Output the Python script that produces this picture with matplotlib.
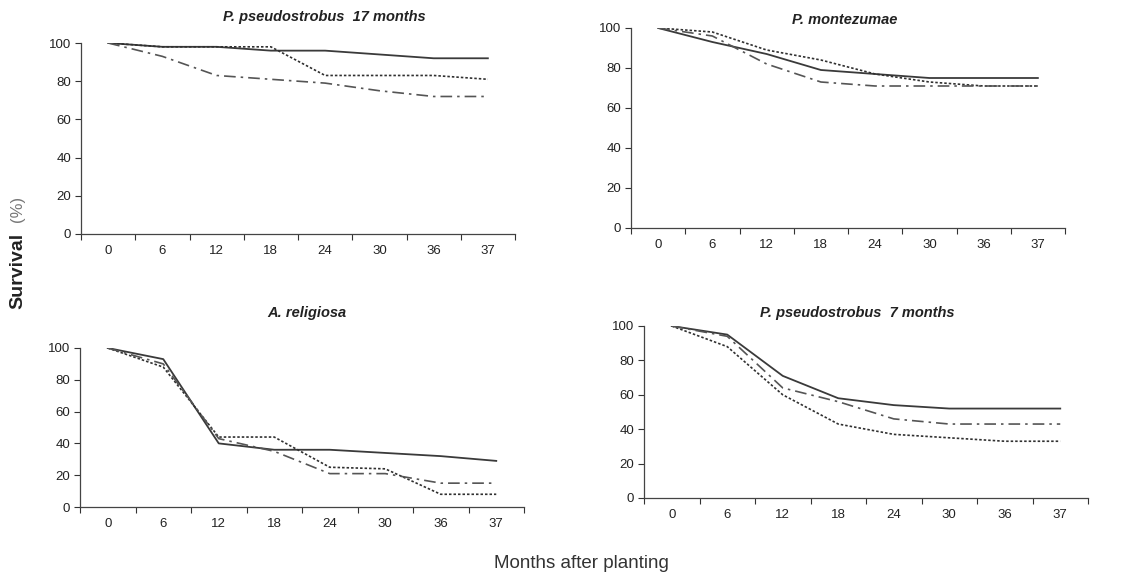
import numpy as np
import matplotlib.pyplot as plt

months = ['0', '6', '12', '18', '24', '30', '36', '37']

# P. pseudostrobus 17 months
pp17_solid = [100, 98, 98, 96, 96, 94, 92, 92]
pp17_dot = [100, 98, 98, 98, 83, 83, 83, 81]
pp17_dashdot = [100, 93, 83, 81, 79, 75, 72, 72]

# P. montezumae
pm_solid = [100, 93, 87, 79, 77, 75, 75, 75]
pm_dot = [100, 98, 89, 84, 77, 73, 71, 71]
pm_dashdot = [100, 96, 82, 73, 71, 71, 71, 71]

# A. religiosa
ar_solid = [100, 93, 40, 36, 36, 34, 32, 29]
ar_dot = [100, 88, 44, 44, 25, 24, 8, 8]
ar_dashdot = [100, 90, 43, 35, 21, 21, 15, 15]

# P. pseudostrobus 7 months
pp7_solid = [100, 95, 71, 58, 54, 52, 52, 52]
pp7_dot = [100, 88, 60, 43, 37, 35, 33, 33]
pp7_dashdot = [100, 94, 64, 56, 46, 43, 43, 43]

plt.rcParams['font.family'] = ['Liberation Sans', 'DejaVu Sans']

fig = plt.figure(figsize=(11.29, 5.73), dpi=100)
W, H = 1129.0, 573.0

panels = [
    ((81, 234, 434, 191), 'P. pseudostrobus  17 months', (324, 17), pp17_solid, pp17_dot, pp17_dashdot),
    ((631, 228, 434, 200), 'P. montezumae', (845, 20), pm_solid, pm_dot, pm_dashdot),
    ((80, 507, 444, 159), 'A. religiosa', (307, 313), ar_solid, ar_dot, ar_dashdot),
    ((644, 498, 444, 172), 'P. pseudostrobus  7 months', (857, 313), pp7_solid, pp7_dot, pp7_dashdot),
]

for (l, b, w, h), title, (tx, ty), s, d, dd in panels:
    ax = fig.add_axes([l / W, (H - b) / H, w / W, h / H])
    x = np.arange(len(months))
    ax.plot(x, s, color='#3a3a3a', lw=1.3, ls='-')
    ax.plot(x, d, color='#303030', lw=1.2, ls=(0, (1.5, 1.2)))
    ax.plot(x, dd, color='#555555', lw=1.2, ls=(0, (7, 3, 1.5, 3)))
    ax.set_xlim(-0.5, len(months) - 0.5)
    ax.set_ylim(0, 100)
    ax.set_yticks([0, 20, 40, 60, 80, 100])
    ax.set_xticks(np.arange(len(months) + 1) - 0.5)
    ax.set_xticklabels([])
    ax.set_xticks(x, minor=True)
    ax.set_xticklabels(months, minor=True)
    ax.tick_params(axis='x', which='major', direction='out', length=4, width=0.8, color='#333333')
    ax.tick_params(axis='x', which='minor', length=0, pad=8, labelsize=9.5, labelcolor='#222222')
    ax.tick_params(axis='y', direction='out', length=4, width=0.8, color='#333333',
                   labelsize=9.5, labelcolor='#222222', pad=3)
    for side in ('top', 'right'):
        ax.spines[side].set_visible(False)
    for side in ('left', 'bottom'):
        ax.spines[side].set_color('#444444')
        ax.spines[side].set_linewidth(0.9)
    ax.patch.set_alpha(0)
    fig.text(tx / W, (H - ty) / H, title, ha='center', va='center',
             fontsize=10.5, fontweight='bold', fontstyle='italic', color='#222222')

fig.text(18 / W, (H - 271) / H, 'Survival', rotation=90, ha='center', va='center',
         fontsize=14, fontweight='bold', color='#222222')
fig.text(18 / W, (H - 209) / H, '(%)', rotation=90, ha='center', va='center',
         fontsize=12, color='#777777')
fig.text(581 / W, (H - 563) / H, 'Months after planting', ha='center', va='center',
         fontsize=13.5, color='#333333')

fig.savefig('out.png', dpi=100)
